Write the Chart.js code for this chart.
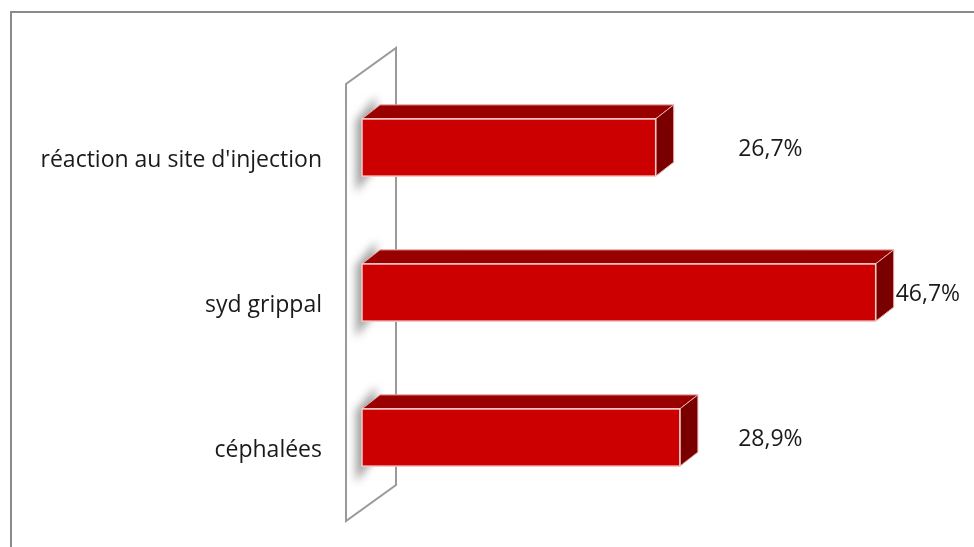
<!DOCTYPE html>
<html>
<head>
<meta charset="utf-8">
<script src="https://cdn.jsdelivr.net/npm/chart.js@4.4.1/dist/chart.umd.min.js"></script>
<style>
  html, body { margin: 0; padding: 0; background: #fff; overflow: hidden; }
  #wrap { position: relative; width: 974px; height: 547px; }
  #frame { position: absolute; left: 10px; top: 11px; width: 1200px; height: 800px;
           border-left: 2px solid #8a8a8a; border-top: 2px solid #8a8a8a; }
  canvas { position: absolute; left: 0; top: 0; }
</style>
</head>
<body>
<div id="wrap">
  <div id="frame"></div>
  <canvas id="c" width="974" height="547"></canvas>
</div>
<script>
// Effets indésirables rapportés (%)
const categories = ["réaction au site d'injection", "syd grippal", "céphalées"];
const values = [26.7, 46.7, 28.9];

const FONT = { family: '"Open Sans", sans-serif', size: 23 };
const TEXT_COLOR = '#1a1a1a';
const DEPTH = { dx: 18, dy: -14 };

function fmt(v) { return v.toFixed(1).replace('.', ',') + '%'; }

// Paroi latérale en perspective + ombres des barres sur la paroi
const wallPlugin = {
  id: 'wall3d',
  beforeDatasetsDraw(chart) {
    const { ctx, chartArea } = chart;
    const fx = chartArea.left - 16, ft = chartArea.top + 9, fb = chartArea.bottom + 11;
    const bx = fx + 50, by = -36;
    ctx.save();
    ctx.beginPath();
    ctx.moveTo(fx, fb);
    ctx.lineTo(fx, ft);
    ctx.lineTo(bx, ft + by);
    ctx.lineTo(bx, fb + by);
    ctx.closePath();
    ctx.fillStyle = '#ffffff';
    ctx.fill();
    ctx.strokeStyle = '#9a9a9a';
    ctx.lineWidth = 2;
    ctx.stroke();

    const meta = chart.getDatasetMeta(0);
    meta.data.forEach(bar => {
      const top = bar.y - bar.height / 2, h = bar.height;
      ctx.save();
      ctx.filter = 'blur(4px)';
      ctx.fillStyle = 'rgba(120,120,120,0.7)';
      ctx.beginPath();
      ctx.moveTo(bar.base - 6, top + 2);
      ctx.lineTo(bar.base + 14, top - 22);
      ctx.lineTo(bar.base + 14, top + h - 10);
      ctx.lineTo(bar.base - 6, top + h + 16);
      ctx.closePath();
      ctx.fill();
      ctx.restore();
    });
    ctx.restore();
  },
  afterDatasetsDraw(chart) {
    const { ctx } = chart;
    const xs = chart.scales.x;
    const meta = chart.getDatasetMeta(0);
    ctx.save();
    meta.data.forEach((bar, i) => {
      const x0 = bar.base, x1 = bar.x;
      const top = bar.y - bar.height / 2, bot = bar.y + bar.height / 2;
      // face supérieure
      ctx.beginPath();
      ctx.moveTo(x0, top);
      ctx.lineTo(x1, top);
      ctx.lineTo(x1 + DEPTH.dx, top + DEPTH.dy);
      ctx.lineTo(x0 + DEPTH.dx, top + DEPTH.dy);
      ctx.closePath();
      ctx.fillStyle = '#990000';
      ctx.fill();
      ctx.strokeStyle = '#e9b0b0';
      ctx.lineWidth = 1;
      ctx.stroke();
      // face latérale
      ctx.beginPath();
      ctx.moveTo(x1, top);
      ctx.lineTo(x1 + DEPTH.dx, top + DEPTH.dy);
      ctx.lineTo(x1 + DEPTH.dx, bot + DEPTH.dy);
      ctx.lineTo(x1, bot);
      ctx.closePath();
      ctx.fillStyle = '#7a0000';
      ctx.fill();
      ctx.stroke();
      // contour de la face avant
      ctx.strokeStyle = '#f3caca';
      ctx.lineWidth = 1.5;
      ctx.strokeRect(x0, top, x1 - x0, bot - top);
      // étiquette de valeur
      const lx = Math.max(xs.getPixelForValue(34.2), x1 + DEPTH.dx + 2);
      ctx.font = FONT.size + 'px ' + FONT.family;
      ctx.fillStyle = TEXT_COLOR;
      ctx.textAlign = 'left';
      ctx.textBaseline = 'middle';
      ctx.fillText(fmt(values[i]), lx, bar.y + 2);
    });
    ctx.restore();
  }
};

new Chart(document.getElementById('c'), {
  type: 'bar',
  data: {
    labels: categories,
    datasets: [{
      data: values,
      backgroundColor: '#cc0000',
      borderWidth: 0,
      categoryPercentage: 1,
      barPercentage: 0.395
    }]
  },
  options: {
    indexAxis: 'y',
    responsive: false,
    animation: false,
    layout: { padding: { top: 75, bottom: 37, left: 0, right: 7 } },
    plugins: { legend: { display: false }, tooltip: { enabled: false } },
    scales: {
      x: { display: false, min: 0, max: 55 },
      y: {
        grid: { display: false },
        border: { display: false },
        ticks: { font: FONT, color: TEXT_COLOR, padding: 32, labelOffset: 13 },
        afterFit(scale) {
          scale.width = 362;
          scale.paddingTop = 0;
          scale.paddingBottom = 0;
        }
      }
    }
  },
  plugins: [wallPlugin]
});
</script>
</body>
</html>
